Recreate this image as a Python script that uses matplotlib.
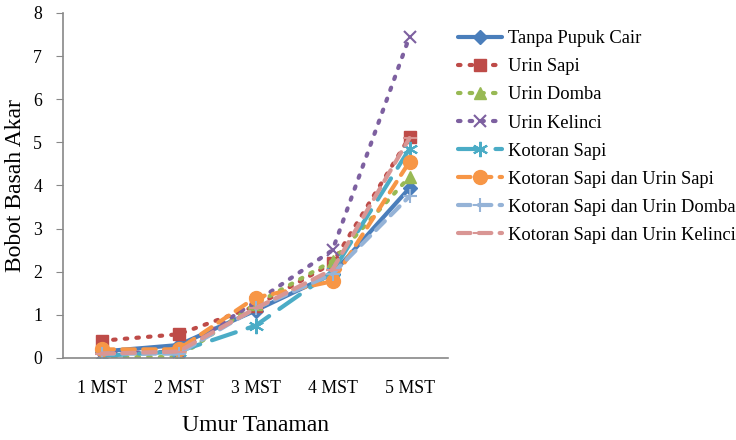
import matplotlib
matplotlib.use("Agg")
import matplotlib.pyplot as plt

categories = ["1 MST", "2 MST", "3 MST", "4 MST", "5 MST"]
series_names = ["Tanpa Pupuk Cair", "Urin Sapi", "Urin Domba", "Urin Kelinci",
                "Kotoran Sapi", "Kotoran Sapi dan Urin Sapi",
                "Kotoran Sapi dan Urin Domba", "Kotoran Sapi dan Urin Kelinci"]
tanpa = [0.15, 0.30, 1.10, 1.95, 3.94]
urin_sapi = [0.40, 0.55, 1.20, 2.20, 5.12]
urin_domba = [0.02, 0.02, 1.25, 2.25, 4.20]
urin_kelinci = [0.10, 0.15, 1.30, 2.50, 7.45]
kotoran_sapi = [0.05, 0.15, 0.75, 2.00, 4.85]
ks_us = [0.20, 0.20, 1.40, 1.78, 4.55]
ks_ud = [0.10, 0.10, 1.15, 1.95, 3.75]
ks_uk = [0.10, 0.15, 1.15, 2.05, 5.10]

plt.rcParams['font.family'] = ['Liberation Serif', 'DejaVu Serif']

fig = plt.figure(figsize=(7.36, 4.4), dpi=100)
ax = fig.add_axes([0.0856, 0.1864, 0.5231, 0.7841])

x = list(range(len(categories)))
styles = [
    dict(data=tanpa, color="#4A7EBB", ls="-", marker="D", ms=7, lw=3),
    dict(data=urin_sapi, color="#BE4B48", ls=(0, (0.6, 2.2)), marker="s", ms=9, lw=3),
    dict(data=urin_domba, color="#98B954", ls=(0, (0.6, 2.2)), marker="^", ms=9, lw=3),
    dict(data=urin_kelinci, color="#7D60A0", ls=(0, (0.6, 2.2)), marker="x", ms=9, lw=3),
    dict(data=kotoran_sapi, color="#4BACC6", ls=(0, (6, 3)), marker=(6, 2, 0), ms=11, lw=3),
    dict(data=ks_us, color="#F79646", ls=(0, (3, 2)), marker="o", ms=10, lw=3),
    dict(data=ks_ud, color="#95B3D7", ls=(0, (3, 2)), marker="+", ms=10, lw=3),
    dict(data=ks_uk, color="#D99694", ls=(0, (3, 2)), marker="_", ms=10, lw=3),
]
for name, s in zip(series_names, styles):
    mew = 1.5 if s["marker"] in ("x", "+", "_", (6, 2, 0)) else 1
    ax.plot(x, s["data"], color=s["color"], linestyle=s["ls"], linewidth=s["lw"],
            marker=s["marker"], markersize=s["ms"], markeredgewidth=mew,
            markeredgecolor=s["color"], markerfacecolor=s["color"],
            dash_capstyle="round", solid_capstyle="round", label=name)

ax.set_xlim(-0.5, 4.5)
ax.set_ylim(0, 8)
ax.set_xticks(x)
ax.set_xticklabels(categories, fontsize=12.8)
ax.set_yticks(range(0, 9))
ax.tick_params(axis="y", labelsize=12.8, length=5, color="#888888", direction="out", pad=10)
ax.tick_params(axis="x", length=0, pad=16)
for sp in ["top", "right"]:
    ax.spines[sp].set_visible(False)
for sp in ["left", "bottom"]:
    ax.spines[sp].set_color("#888888")
    ax.spines[sp].set_linewidth(1.2)

ax.set_ylabel("Bobot Basah Akar", fontsize=17, labelpad=5)
ax.set_xlabel("Umur Tanaman", fontsize=17, labelpad=13)

fig.legend(loc="upper left", bbox_to_anchor=(0.612, 0.948), frameon=False,
           fontsize=13.3, handlelength=2.4, handletextpad=0.3, labelspacing=0.6,
           borderaxespad=0)

fig.savefig("out.png", dpi=100)
